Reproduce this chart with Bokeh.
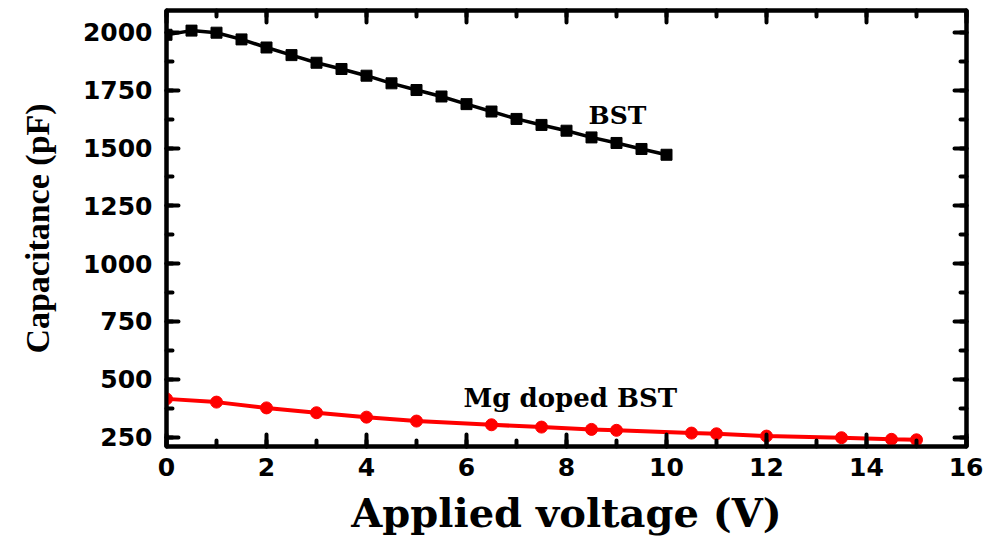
from bokeh.plotting import figure
from bokeh.models import Range1d, LinearAxis, SingleIntervalTicker, Label, CustomJSTickFormatter
from bokeh.embed import file_html
from bokeh.resources import INLINE

# Capacitance versus applied voltage for the two films
bst_voltage = [0, 0.5, 1, 1.5, 2, 2.5, 3, 3.5, 4, 4.5, 5, 5.5, 6, 6.5, 7, 7.5, 8, 8.5, 9, 9.5, 10]
bst_capacitance = [1990, 2008, 1999, 1970, 1935, 1902, 1869, 1842, 1813, 1780, 1751,
                   1723, 1690, 1658, 1626, 1600, 1575, 1546, 1522, 1496, 1471]

mg_voltage = [0, 1, 2, 3, 4, 5, 6.5, 7.5, 8.5, 9, 10.5, 11, 12, 13.5, 14.5, 15]
mg_capacitance = [415, 401, 376, 355, 336, 319, 303, 293, 283, 279, 267, 264, 254, 247, 240, 238]

x_tick_step = 2
y_tick_step = 250

TICK_FONT = "DejaVu Sans"
LABEL_FONT = "DejaVu Serif"

p = figure(
    width=983, height=538,
    x_range=Range1d(0, 16), y_range=Range1d(209, 2095),
    output_backend="svg", toolbar_location=None,
    min_border_left=166, min_border_right=17,
    min_border_top=10, min_border_bottom=88,
    x_axis_label="Applied voltage (V)", y_axis_label="Capacitance (pF)",
)
p.background_fill_color = "white"
p.border_fill_color = "white"
p.grid.visible = False
p.outline_line_color = "black"
p.outline_line_width = 4

p.xaxis.ticker = SingleIntervalTicker(interval=x_tick_step, num_minor_ticks=2)
p.yaxis.ticker = SingleIntervalTicker(interval=y_tick_step, num_minor_ticks=2)


def style_axis(ax):
    ax.axis_line_width = 4
    ax.axis_line_color = "black"
    ax.major_tick_in = 12
    ax.major_tick_out = 0
    ax.major_tick_line_width = 4
    ax.major_tick_line_cap = "round"
    ax.minor_tick_in = 6
    ax.minor_tick_out = 0
    ax.minor_tick_line_width = 4
    ax.minor_tick_line_cap = "round"


for ax in (p.xaxis[0], p.yaxis[0]):
    style_axis(ax)
    ax.major_label_text_font = TICK_FONT
    ax.major_label_text_font_style = "bold"
    ax.major_label_text_font_size = "25px"
    ax.major_label_text_color = "black"

p.yaxis.major_label_standoff = 14
p.xaxis.major_label_standoff = 11

p.yaxis.axis_label_text_font = "Liberation Serif"
p.yaxis.axis_label_text_font_style = "bold"
p.yaxis.axis_label_text_font_size = "34px"
p.yaxis.axis_label_text_color = "black"
p.yaxis.axis_label_standoff = 24

p.xaxis.axis_label_text_font = LABEL_FONT
p.xaxis.axis_label_text_font_style = "bold"
p.xaxis.axis_label_text_font_size = "40px"
p.xaxis.axis_label_text_color = "black"
p.xaxis.axis_label_standoff = 10

# Mirrored tick marks on the top and right edges, without labels
blank = CustomJSTickFormatter(code="return '';")
top_axis = LinearAxis(ticker=SingleIntervalTicker(interval=x_tick_step, num_minor_ticks=2),
                      formatter=blank)
right_axis = LinearAxis(ticker=SingleIntervalTicker(interval=y_tick_step, num_minor_ticks=2),
                        formatter=blank)
for ax in (top_axis, right_axis):
    style_axis(ax)
    ax.major_label_standoff = 0
p.add_layout(top_axis, "above")
p.add_layout(right_axis, "right")

# BST series
p.line(bst_voltage, bst_capacitance, line_color="black", line_width=3.5)
p.scatter(bst_voltage, bst_capacitance, marker="square", size=11,
          fill_color="black", line_color="black")

# Mg doped BST series
p.line(mg_voltage, mg_capacitance, line_color="#ff0000", line_width=4)
p.scatter(mg_voltage, mg_capacitance, marker="circle", size=12,
          fill_color="#ff0000", line_color="#ff0000")

p.add_layout(Label(x=8.44, y=1641, text="BST", text_font=LABEL_FONT,
                   text_font_style="bold", text_font_size="25px",
                   text_color="black", text_baseline="alphabetic"))
p.add_layout(Label(x=5.94, y=419, text="Mg doped BST", text_font=LABEL_FONT,
                   text_font_style="bold", text_font_size="26px",
                   text_color="black", text_baseline="alphabetic"))

open("out.html", "w").write(file_html(p, INLINE))
